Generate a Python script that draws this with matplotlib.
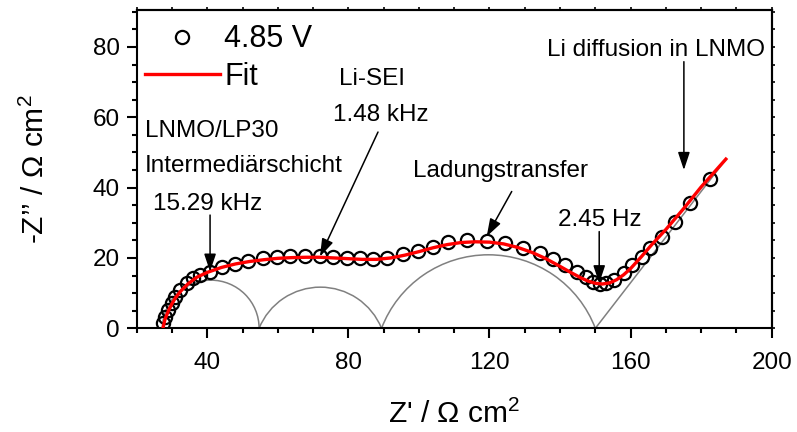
import numpy as np
import matplotlib
matplotlib.use('Agg')
import matplotlib.pyplot as plt
from matplotlib.patches import Arc
from matplotlib.ticker import MultipleLocator

plt.rcParams['font.family'] = ['Liberation Sans', 'DejaVu Sans']
plt.rcParams['mathtext.fontset'] = 'custom'
plt.rcParams['mathtext.rm'] = 'Liberation Sans'

# measured impedance at 4.85 V (Z', -Z'' in Ohm cm^2)
z_re = [27.5, 28.0, 29.0, 29.9, 30.9, 32.3, 34.2, 36.0, 37.9, 40.8,
        44.1, 47.9, 51.6, 55.9, 59.7, 63.5, 67.7, 72.0, 75.7, 79.5,
        83.3, 87.1, 90.9, 95.6, 99.6, 104.1, 108.3, 113.5, 119.2, 124.4,
        129.6, 134.3, 138.1, 141.4, 144.7, 147.3, 149.3, 151.2, 153.0, 155.3,
        158.0, 160.4, 163.2, 165.5, 168.8, 172.6, 176.9, 182.5]
z_im = [1.4, 3.3, 5.2, 7.1, 9.0, 10.9, 12.8, 14.2, 15.2, 16.1,
        17.4, 18.3, 19.2, 19.9, 20.4, 20.6, 20.7, 20.7, 20.4, 20.1,
        19.9, 19.8, 20.1, 21.1, 22.0, 23.2, 24.4, 25.1, 24.8, 24.2,
        22.8, 21.3, 19.6, 18.0, 16.1, 14.5, 13.2, 12.5, 12.9, 13.8,
        15.8, 18.0, 20.2, 22.8, 26.1, 30.3, 35.6, 42.4]

# equivalent circuit fit
fit_re = [27.5, 28.0, 29.0, 30.0, 31.0, 32.5, 34.5, 37, 40, 44, 48, 52, 56,
          60, 64, 68, 72, 76, 80, 84, 88, 92, 96, 100, 104, 108, 112, 116,
          120, 124, 128, 132, 136, 140, 143, 146, 148, 150, 152, 154, 156,
          158, 160, 163, 166, 170, 175, 180, 187]
fit_im = [0.3, 2.5, 5.0, 7.0, 8.7, 10.6, 12.6, 14.5, 15.9, 17.3, 18.3, 19.0, 19.5,
          19.9, 20.1, 20.2, 20.2, 20.0, 19.8, 19.6, 19.6, 20.0, 20.8, 21.8, 22.9, 23.8,
          24.4, 24.6, 24.5, 24.0, 23.0, 21.6, 19.8, 17.6, 15.9, 14.3, 13.4, 12.8,
          12.6, 12.9, 13.8, 15.2, 17.0, 20.3, 23.8, 28.1, 34.0, 40.2, 48.1]

# single RC elements: start, end and apex height of each arc
arc_start = [27.3, 54.7, 89.4]
arc_end = [54.7, 89.4, 150.0]
arc_height = [13.7, 11.7, 20.9]

# diffusion branch
warburg_re = [150.0, 187.0]
warburg_im = [0.0, 48.0]

# annotations: label, text position (baseline), arrow start, arrow tip
labels = ['LNMO/LP30', 'Intermediärschicht', '15.29 kHz', 'Li-SEI', '1.48 kHz',
          'Ladungstransfer', '2.45 Hz', 'Li diffusion in LNMO']
label_x = [22.35, 22.35, 40.0, 86.7, 89.2, 123.0, 151.3, 167.2]
label_y = [54.4, 44.5, 33.7, 69.2, 59.0, 43.1, 29.2, 77.3]
label_ha = ['left', 'left', 'center', 'center', 'center', 'center', 'center', 'center']
arrow_from = [(40.8, 32.2), (88.4, 55.8), (126.3, 38.9), (151.1, 27.5), (175.1, 75.8)]
arrow_to = [(40.8, 16.1), (71.95, 20.4), (119.2, 26.1), (151.1, 12.8), (175.1, 45.0)]

fig = plt.figure(figsize=(7.97, 4.32), dpi=100)
ax = fig.add_axes([0.1715, 0.2400, 0.7968, 0.7369])

# arcs (depressed semicircles with centre below the real axis)
for x0, x1, h in zip(arc_start, arc_end, arc_height):
    a = (x1 - x0) / 2
    r = (a**2 + h**2) / (2*h)
    yc = h - r
    th = np.degrees(np.arctan2(-yc, a))
    ax.add_patch(Arc(((x0 + x1) / 2, yc), 2*r, 2*r, theta1=th, theta2=180 - th,
                     color='#808080', lw=1.1, zorder=1))
ax.plot(warburg_re, warburg_im, color='#808080', lw=1.1, zorder=1)

ax.plot(z_re, z_im, 'o', mfc='none', mec='black', ms=9.5, mew=1.6,
        label='4.85 V', zorder=2)
ax.plot(fit_re, fit_im, '-', color='#ff0000', lw=2.4, label='Fit', zorder=3)

for s, x, y, ha in zip(labels, label_x, label_y, label_ha):
    ax.text(x, y, s, ha=ha, va='baseline', fontsize=17.5, zorder=4)
for p0, p1 in zip(arrow_from, arrow_to):
    ax.annotate('', xy=p1, xytext=p0, zorder=5,
                arrowprops=dict(arrowstyle='-|>,head_length=0.6,head_width=0.2',
                                mutation_scale=18, color='black', lw=1.1,
                                shrinkA=0, shrinkB=0))

ax.set_xlim(20, 200)
ax.set_ylim(0, 90.5)
ax.set_xticks([40, 80, 120, 160, 200])
ax.xaxis.set_minor_locator(MultipleLocator(10))
ax.yaxis.set_major_locator(MultipleLocator(20))
ax.yaxis.set_minor_locator(MultipleLocator(5))

for spine in ax.spines.values():
    spine.set_linewidth(1.5)
ax.tick_params(which='both', direction='out', width=1.5, labelsize=17.5)
ax.tick_params(which='major', length=7)
ax.tick_params(which='minor', length=3.5)
ax.tick_params(axis='x', pad=10)
ax.tick_params(axis='y', pad=5)

# short ticks on the opposite axes
top = ax.secondary_xaxis('top')
top.xaxis.set_major_locator(MultipleLocator(10))
top.tick_params(direction='out', length=2, width=1.2, labeltop=False)
right = ax.secondary_yaxis('right')
right.yaxis.set_major_locator(MultipleLocator(5))
right.tick_params(direction='out', length=2, width=1.2, labelright=False)
for sec in (top, right):
    for spine in sec.spines.values():
        spine.set_linewidth(1.5)

ax.set_xlabel("Z' / \u03a9 cm$^{2}$", fontsize=21.5, labelpad=18)
ax.set_ylabel("-Z\u2019\u2019 / \u03a9 cm$^{2}$", fontsize=21.5, labelpad=31)

ax.legend(loc='upper left', frameon=False, fontsize=22, handlelength=2.45,
          handletextpad=0.15, borderpad=0, borderaxespad=0.0, labelspacing=0.25,
          bbox_to_anchor=(0.013, 0.955))

fig.savefig('out.png', dpi=100)
